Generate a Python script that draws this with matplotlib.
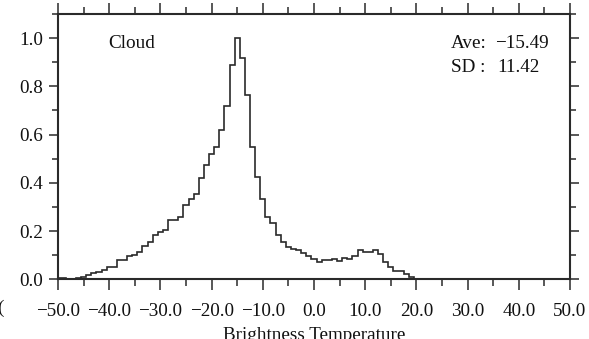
import numpy as np
import matplotlib
matplotlib.use("Agg")
import matplotlib.pyplot as plt
from matplotlib.ticker import MultipleLocator, FuncFormatter

# ---- data ----
bin_centers = np.arange(-50, 21)  # brightness temperature bins (1-degree)
freq = [0.005, 0.005, 0.003, 0.003, 0.004, 0.008, 0.017, 0.025, 0.032, 0.039,
        0.051, 0.053, 0.078, 0.078, 0.097, 0.101, 0.115, 0.139, 0.153, 0.182,
        0.198, 0.205, 0.244, 0.247, 0.260, 0.310, 0.335, 0.354, 0.420, 0.473,
        0.520, 0.548, 0.618, 0.717, 0.889, 1.000, 0.917, 0.764, 0.548, 0.423,
        0.335, 0.257, 0.233, 0.185, 0.153, 0.133, 0.125, 0.120, 0.108, 0.097,
        0.083, 0.073, 0.079, 0.082, 0.083, 0.075, 0.090, 0.083, 0.097, 0.120,
        0.114, 0.114, 0.120, 0.105, 0.070, 0.050, 0.035, 0.033, 0.022, 0.008,
        0.000]
label_name = "Cloud"
ave_label, ave_value = "Ave:", "\u221215.49"
sd_label, sd_value = "SD :", "11.42"
xlabel = "Brightness Temperature"

FONT = "Liberation Serif"
FS = 13.8
COL = "#2a2a2a"

fig = plt.figure(figsize=(5.89, 3.39), dpi=100)
W, H = 589, 339
L, R, T, B = 58, 570, 14, 279.3
ax = fig.add_axes([L / W, (H - B) / H, (R - L) / W, (B - T) / H])

edges = np.append(bin_centers - 0.5, bin_centers[-1] + 0.5)
ax.stairs(freq, edges, baseline=None, color=COL, linewidth=1.2)

ax.set_xlim(-50, 50)
ax.set_ylim(0, 1.1)

ax.xaxis.set_major_locator(MultipleLocator(10))
ax.xaxis.set_minor_locator(MultipleLocator(5))
ax.yaxis.set_major_locator(MultipleLocator(0.2))
ax.yaxis.set_minor_locator(MultipleLocator(0.1))
fmt = FuncFormatter(lambda v, p: ("%.1f" % v).replace("-", "\u2212"))
ax.xaxis.set_major_formatter(fmt)
ax.yaxis.set_major_formatter(fmt)

for s in ax.spines.values():
    s.set_linewidth(1.5)
    s.set_color(COL)

ax.tick_params(axis="x", which="major", direction="out", length=8, width=1.1,
               color=COL, top=True, bottom=True, pad=9, labelsize=FS)
ax.tick_params(axis="x", which="minor", direction="out", length=5, width=1.1,
               color=COL, top=True, bottom=True)
ax.tick_params(axis="y", which="major", direction="out", length=6.2, width=1.1,
               color=COL, left=True, right=True, pad=4.5, labelsize=FS)
ax.tick_params(axis="y", which="minor", direction="out", length=4, width=1.1,
               color=COL, left=True, right=True)
for lab in ax.get_xticklabels() + ax.get_yticklabels():
    lab.set_fontfamily(FONT)
    lab.set_color("#111111")

def px_to_ax(x, y):
    return (x - L) / (R - L), (B - y) / (B - T)

tk = dict(fontfamily=FONT, fontsize=FS, color="#111111", transform=ax.transAxes)
ax.text(*px_to_ax(132, 43.5), label_name, ha="center", va="center", **tk)
ax.text(*px_to_ax(451, 44), ave_label, ha="left", va="center", **tk)
ax.text(*px_to_ax(495, 44), ave_value, ha="left", va="center", **tk)
ax.text(*px_to_ax(451, 67), sd_label, ha="left", va="center", **tk)
ax.text(*px_to_ax(497, 67), sd_value, ha="left", va="center", **tk)

fig.text(314 / W, (H - 327.5) / H, xlabel, ha="center", va="top",
         fontfamily=FONT, fontsize=FS, color="#111111")
fig.text(-3 / W, (H - 308) / H, "(", ha="left", va="center",
         fontfamily=FONT, fontsize=FS, color="#111111")

fig.savefig("out.png", dpi=100)
